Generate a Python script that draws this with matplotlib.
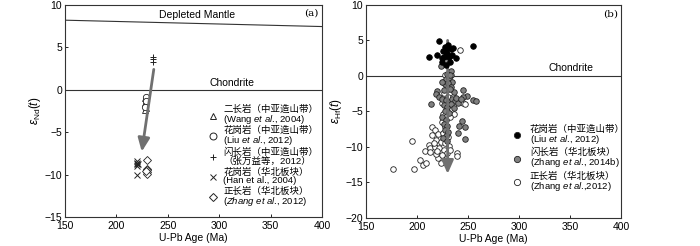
import matplotlib.pyplot as plt
import numpy as np

plt.rcParams['font.family'] = ['Liberation Sans', 'Noto Sans CJK SC']
plt.rcParams['mathtext.fontset'] = 'custom'
plt.rcParams['mathtext.rm'] = 'Liberation Sans'
plt.rcParams['mathtext.it'] = 'Liberation Sans:italic'

# ---- panel (a): eNd(t) ----
tri_x = [228, 228, 229, 228, 229]
tri_y = [-1.0, -1.6, -2.1, -2.4, -1.3]
circ_x = [229, 229, 228]
circ_y = [-0.8, -1.3, -2.0]
plus_x = [236, 236, 236]
plus_y = [3.3, 3.6, 3.9]
cross_x = [220, 220, 220, 220, 221, 220]
cross_y = [-8.4, -8.6, -8.8, -9.0, -8.7, -10.0]
dia_x = [230, 230, 230, 230, 230, 229]
dia_y = [-8.3, -9.3, -9.5, -9.7, -9.9, -9.6]

dm_x = [150, 400]
dm_y = [8.2, 7.45]

# ---- panel (b): eHf(t) ----
blk_x = [222, 212, 220, 227, 228, 233, 235, 238, 255, 224, 228, 232, 229, 226, 231,
         228, 224, 230, 234, 225]
blk_y = [4.9, 2.7, 3.0, 4.1, 3.8, 3.8, 3.9, 2.5, 4.2, 2.0, 1.5, 2.0, 3.1, 2.7, 2.7,
         3.4, 2.5, 4.3, 3.0, 3.5]

gry_x = [214, 245, 249, 245, 255, 258, 244, 241, 247, 240, 247, 220, 219, 223, 233,
         225, 228, 231, 234, 227, 230, 233, 229, 232, 226, 236, 222, 224, 228, 231,
         234, 237, 240, 238, 226, 229, 233, 227, 231, 224, 228, 226, 229, 227, 230,
         228, 225, 229, 243, 236, 232, 224]
gry_y = [-4.0, -2.0, -2.8, -3.0, -3.4, -3.5, -6.4, -7.0, -7.2, -8.1, -8.9, -2.1, -2.6,
         1.4, 0.7, -0.8, -0.5, -0.3, -0.8, -1.2, -1.0, -1.5, 0.3, 0.1, -2.0, -2.2, -2.9,
         -3.2, -3.4, -3.7, -3.3, -3.6, -3.8, -3.1, -4.1, -4.4, -4.0, -5.0, -5.2, -5.8,
         -6.2, -6.8, -7.0, -7.6, -7.9, -8.5, -8.8, -9.2, -3.2, -4.5, -1.9, -0.8]

wht_x = [242, 195, 176, 197, 203, 206, 209, 215, 218, 215, 212, 213, 208, 213, 239,
         239, 221, 223, 245, 227, 230, 233, 229, 226, 232, 230, 235, 227, 224, 230,
         234, 225, 236, 229, 232, 224, 227, 221, 225, 230, 219, 223, 227, 231, 218,
         222, 226, 229, 224, 219, 228, 232, 217, 220, 247]
wht_y = [3.6, -9.2, -13.1, -13.1, -11.8, -12.5, -12.3, -7.2, -7.6, -8.3, -9.7, -10.2,
         -10.6, -10.7, -10.8, -11.3, -11.5, -12.3, -3.8, 0.1, -0.4, 0.2, -1.6, -2.4,
         -2.6, -3.0, -3.0, -3.5, -3.8, -4.6, -4.7, -5.3, -5.4, -5.6, -5.8, -6.5, -7.2,
         -8.2, -8.0, -8.6, -9.0, -9.3, -9.5, -9.9, -10.0, -10.2, -10.5, -10.9, -11.2,
         -11.0, -11.7, -10.4, -9.5, -10.6, -4.0]

fig = plt.figure(figsize=(7.0, 2.46), dpi=100)
ax1 = fig.add_axes([0.093, 0.118, 0.367, 0.862])
ax2 = fig.add_axes([0.523, 0.114, 0.364, 0.866])

arrow_c = '#707070'
fs_tick = 7.5
fs_lab = 7.5
fs_leg = 6.8

for ax in (ax1, ax2):
    ax.set_xlim(150, 400)
    ax.set_xticks([150, 200, 250, 300, 350, 400])
    ax.tick_params(direction='in', length=2.5, width=0.6, labelsize=fs_tick, pad=2)
    ax.tick_params(axis='x', pad=3)
    for s in ax.spines.values():
        s.set_linewidth(0.8)
        s.set_color('#333333')
    ax.set_xlabel('U-Pb Age (Ma)', fontsize=fs_lab, labelpad=1)
    ax.axhline(0, color='#333333', lw=0.8)

# panel (a)
ax1.set_ylim(-15, 10)
ax1.set_yticks([-15, -10, -5, 0, 5, 10])
ax1.set_ylabel(r'$\it{\varepsilon}_{\rm Nd}(\it{t})$', fontsize=8.5, labelpad=1)
ax1.plot(dm_x, dm_y, color='#333333', lw=0.8)
ax1.text(278, 8.85, 'Depleted Mantle', fontsize=fs_lab, ha='center', va='center')
ax1.text(312, 0.8, 'Chondrite', fontsize=fs_lab, ha='center', va='center')
ax1.text(390, 9.0, '(a)', fontsize=fs_lab, ha='center', va='center', family='DejaVu Serif')

ax1.annotate('', xy=(224.6, -7.3), xytext=(236.3, 2.4),
             arrowprops=dict(arrowstyle='-|>,head_width=0.35,head_length=0.8',
                             color=arrow_c, lw=2, shrinkA=0, shrinkB=0))

ms = 4.5
ax1.plot(tri_x, tri_y, '^', ms=ms, mfc='white', mec='#222222', mew=0.6, ls='none')
ax1.plot(circ_x, circ_y, 'o', ms=ms, mfc='white', mec='#222222', mew=0.6, ls='none')
ax1.plot(plus_x, plus_y, '+', ms=ms + 0.5, mec='#222222', mew=0.7, ls='none')
ax1.plot(cross_x, cross_y, 'x', ms=ms - 0.5, mec='#222222', mew=0.7, ls='none')
ax1.plot(dia_x, dia_y, 'D', ms=ms - 0.5, mfc='white', mec='#222222', mew=0.6, ls='none')

leg_a = [
    ('^', '二长岩（中亚造山带）\n' + r'(Wang $\it{et\ al}$., 2004)', 0.478),
    ('o', '花岗岩（中亚造山带）\n' + r'(Liu $\it{et\ al}$., 2012)', 0.381),
    ('+', '闪长岩（中亚造山带）\n（张万益等，2012）', 0.284),
    ('x', '花岗岩（华北板块）\n(Han et al., 2004)', 0.190),
    ('D', '正长岩（华北板块）\n' + r'($\it{Zhang\ et\ al}$., 2012)', 0.093),
]
for mk, lab, yc in leg_a:
    kw = dict(mfc='white', mec='#222222', mew=0.7, ms=5)
    if mk == 'D':
        kw['ms'] = 4.5
    ax1.plot([0.576], [yc], mk, transform=ax1.transAxes, clip_on=False, **kw)
    ax1.text(0.615, yc, lab, transform=ax1.transAxes, fontsize=fs_leg, va='center',
             linespacing=0.9)

# panel (b)
ax2.set_ylim(-20, 10)
ax2.set_yticks([-20, -15, -10, -5, 0, 5, 10])
ax2.set_ylabel(r'$\it{\varepsilon}_{\rm Hf}(\it{t})$', fontsize=8.5, labelpad=1)
ax2.text(351, 1.1, 'Chondrite', fontsize=fs_lab, ha='center', va='center')
ax2.text(390, 8.7, '(b)', fontsize=fs_lab, ha='center', va='center', family='DejaVu Serif')

ms2 = 4
ax2.scatter(wht_x, wht_y, s=ms2 ** 2, c='white', edgecolors='#222222', linewidths=0.6, zorder=3)
ax2.scatter(gry_x, gry_y, s=ms2 ** 2, c='#808080', edgecolors='#222222', linewidths=0.6, zorder=3)
ax2.annotate('', xy=(230, -13.8), xytext=(230, 5.0),
             arrowprops=dict(arrowstyle='-|>,head_width=0.35,head_length=0.8',
                             color=arrow_c, lw=2, shrinkA=0, shrinkB=0), zorder=3.5)
ax2.scatter(blk_x, blk_y, s=ms2 ** 2, c='black', edgecolors='black', linewidths=0.6, zorder=4)

leg_b = [
    ('black', '花岗岩（中亚造山带）\n' + r'(Liu $\it{et\ al}$., 2012)', 0.390),
    ('#808080', '闪长岩（华北板块）\n' + r'(Zhang $\it{et\ al}$., 2014b)', 0.279),
    ('white', '正长岩（华北板块）\n' + r'(Zhang $\it{et\ al}$.,2012)', 0.168),
]
for col, lab, yc in leg_b:
    ax2.plot([0.592], [yc], 'o', ms=4.5, mfc=col, mec='#222222', mew=0.6,
             transform=ax2.transAxes, clip_on=False)
    ax2.text(0.643, yc, lab, transform=ax2.transAxes, fontsize=fs_leg, va='center',
             linespacing=0.9)

fig.savefig('out.png', dpi=100)
